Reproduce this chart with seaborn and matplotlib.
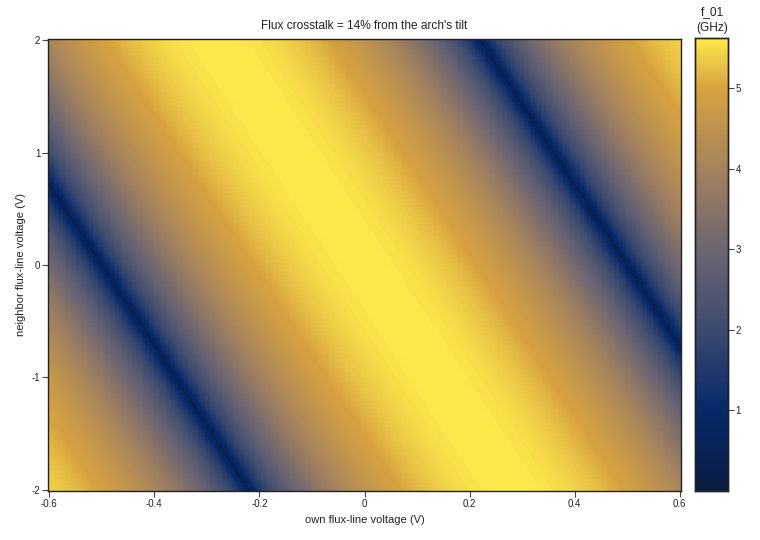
import numpy as np
import pandas as pd
import matplotlib
matplotlib.use("Agg")
import matplotlib.pyplot as plt
from matplotlib.colors import LinearSegmentedColormap
import seaborn as sns

# sweep ranges (V)
own_range = [-0.6, 0.6]
neighbor_range = [-2.0, 2.0]
n_own = 260
n_neighbor = 220

# transmon arch parameters
f_max = 5.62          # GHz at the sweet spot
crosstalk = 0.14      # neighbor line coupling into own flux
period_v = 1.0        # volts per flux quantum
sweet_spot_v = 0.0

x_ticks = [-0.6, -0.4, -0.2, 0, 0.2, 0.4, 0.6]
x_labels = ["-0.6", "-0.4", "-0.2", "0", "0.2", "0.4", "0.6"]
y_ticks = [-2, -1, 0, 1, 2]
y_labels = ["-2", "-1", "0", "1", "2"]
cbar_ticks = [1, 2, 3, 4, 5]

# colour stops (fraction of colour range, colour)
cmap_stops = [
    (0.00, "#0a1d44"),
    (0.18, "#06296a"),
    (0.36, "#3e4b6f"),
    (0.53, "#6c6572"),
    (0.71, "#a4825d"),
    (0.89, "#d6a23f"),
    (1.00, "#fde84b"),
]

own_v = np.linspace(own_range[0], own_range[1], n_own)
nb_v = np.linspace(neighbor_range[0], neighbor_range[1], n_neighbor)
V_own, V_nb = np.meshgrid(own_v, nb_v)
phi = (V_own + crosstalk * V_nb - sweet_spot_v) / period_v
f01 = f_max * np.sqrt(np.abs(np.cos(np.pi * phi)))

df = pd.DataFrame(f01, index=nb_v, columns=own_v)

plt.rcParams["font.family"] = ["Liberation Sans", "DejaVu Sans"]
cmap = LinearSegmentedColormap.from_list("arch", cmap_stops)

fig = plt.figure(figsize=(7.6, 5.4), dpi=100)
ax = fig.add_axes([48 / 760, 49 / 540, 633 / 760, 452 / 540])
cax = fig.add_axes([695 / 760, 49 / 540, 33 / 760, 453 / 540])

sns.heatmap(df, ax=ax, cbar_ax=cax, cmap=cmap, vmin=0, vmax=f_max,
            xticklabels=False, yticklabels=False, rasterized=True)
ax.invert_yaxis()

dx = own_v[1] - own_v[0]
dy = nb_v[1] - nb_v[0]
ax.set_xticks([(v - own_v[0]) / dx + 0.5 for v in x_ticks])
ax.set_xticklabels(x_labels)
ax.set_yticks([(v - nb_v[0]) / dy + 0.5 for v in y_ticks])
ax.set_yticklabels(y_labels, rotation=0)
ax.tick_params(axis="both", length=4, width=0.8, color="#444444",
               labelsize=7, labelcolor="#222222", pad=1.5)

for s in ax.spines.values():
    s.set_visible(True)
    s.set_color("#222222")
    s.set_linewidth(1.0)

ax.set_xlabel("own flux-line voltage (V)", fontsize=8, color="#222222", va="center")
ax.xaxis.set_label_coords(0.5, (491 - 520) / 452)
ax.set_ylabel("neighbor flux-line voltage (V)", fontsize=8, color="#222222", va="center")
ax.yaxis.set_label_coords((21 - 48) / 633, 0.5)
ax.set_title("Flux crosstalk = 14% from the arch's tilt", fontsize=8.6,
             color="#222222", pad=7)

cax.set_yticks(cbar_ticks)
cax.set_yticklabels([str(t) for t in cbar_ticks])
cax.tick_params(length=4, width=0.8, color="#444444", labelsize=7,
                labelcolor="#222222", pad=1.5)
for s in cax.spines.values():
    s.set_visible(True)
    s.set_color("#222222")
    s.set_linewidth(1.0)
fig.text(712 / 760, 1 - 12 / 540, "f_01", ha="center", va="center",
         fontsize=8.6, color="#222222")
fig.text(712 / 760, 1 - 28 / 540, "(GHz)", ha="center", va="center",
         fontsize=8.6, color="#222222")

fig.savefig("out.png", dpi=100)
